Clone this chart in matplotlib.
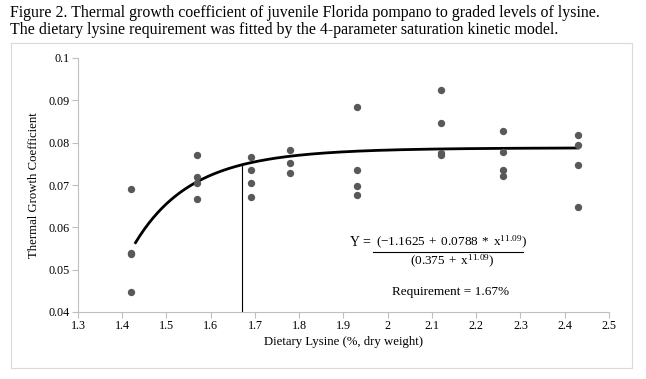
import numpy as np
import matplotlib
matplotlib.use('Agg')
import matplotlib.pyplot as plt
from matplotlib.patches import Rectangle
from matplotlib.lines import Line2D

plt.rcParams['font.family'] = ['Liberation Serif', 'DejaVu Serif']
plt.rcParams['mathtext.fontset'] = 'custom'
plt.rcParams['mathtext.rm'] = 'Liberation Serif'
plt.rcParams['mathtext.it'] = 'Liberation Serif:italic'

# observed thermal growth coefficient per diet
lys_x = [1.42, 1.42, 1.42, 1.42,
         1.57, 1.57, 1.57, 1.57,
         1.69, 1.69, 1.69, 1.69,
         1.78, 1.78, 1.78,
         1.93, 1.93, 1.93, 1.93,
         2.12, 2.12, 2.12, 2.12,
         2.26, 2.26, 2.26, 2.26,
         2.43, 2.43, 2.43, 2.43]
tgc_y = [0.0690, 0.0540, 0.0537, 0.0448,
         0.0772, 0.0720, 0.0704, 0.0666,
         0.0766, 0.0736, 0.0704, 0.0671,
         0.0782, 0.0751, 0.0728,
         0.0884, 0.0735, 0.0697, 0.0676,
         0.0924, 0.0846, 0.0776, 0.0770,
         0.0827, 0.0777, 0.0735, 0.0722,
         0.0817, 0.0794, 0.0747, 0.0647]

# saturation kinetic model parameters shown on the chart
a_par = -1.1625
b_par = 0.0788
n_par = 11.09
k_par = 0.375
fit_start = 1.43
fit_end = 2.43
requirement = 1.67

xticks = [1.3, 1.4, 1.5, 1.6, 1.7, 1.8, 1.9, 2, 2.1, 2.2, 2.3, 2.4, 2.5]
yticks = [0.04, 0.05, 0.06, 0.07, 0.08, 0.09, 0.1]


def model(x):
    return (a_par + b_par * x ** n_par) / (k_par + x ** n_par)


W, H = 646, 379
fig = plt.figure(figsize=(W / 100, H / 100), dpi=100)
ax = fig.add_axes([78 / W, 1 - 312 / H, (609 - 78) / W, (312 - 58) / H])

# border of the chart area
fig.add_artist(Rectangle((11 / W, 1 - 368 / H), 621 / W, 325 / H, transform=fig.transFigure,
                         fill=False, edgecolor='#d9d9d9', linewidth=0.8))

fig.text(10 / W, 1 - 5 / H,
         'Figure 2. Thermal growth coefficient of juvenile Florida pompano to graded levels of lysine.\n'
         'The dietary lysine requirement was fitted by the 4-parameter saturation kinetic model.',
         ha='left', va='top', fontsize=11.4, linespacing=1.08)

ax.scatter(lys_x, tgc_y, s=28, color='#595959', zorder=3, linewidths=0)

xf = np.linspace(fit_start, fit_end, 200)
ax.plot(xf, model(xf), color='black', linewidth=2.0, zorder=2)
ax.plot([requirement, requirement], [0.04, model(requirement)], color='black', linewidth=0.8)

ax.set_xlim(1.3, 2.5)
ax.set_ylim(0.04, 0.1)
ax.set_xticks(xticks)
ax.set_xticklabels([str(t) for t in xticks])
ax.set_yticks(yticks)
ax.set_yticklabels([str(t) for t in yticks])
for s in ['top', 'right']:
    ax.spines[s].set_visible(False)
for s in ['left', 'bottom']:
    ax.spines[s].set_color('#bfbfbf')
    ax.spines[s].set_linewidth(0.8)
ax.tick_params(direction='out', length=4, width=0.8, color='#bfbfbf', labelsize=8.7, pad=2)

ax.set_xlabel('Dietary Lysine (%, dry weight)', fontsize=9.2, labelpad=3)
ax.set_ylabel('Thermal Growth Coefficient', fontsize=9.2, labelpad=6)

# equation
ax.text(1.962, 0.0565, 'Y =', ha='right', va='center', fontsize=10)
ax.text(2.143, 0.0545, r'$\mathregular{(-1.1625\;+\;0.0788\;*\;x^{11.09})}$',
        ha='center', va='bottom', fontsize=9.5)
ax.add_line(Line2D([1.967, 2.306], [0.0542, 0.0542], color='black', linewidth=0.8))
ax.text(2.145, 0.0539, r'$\mathregular{(0.375\;+\;x^{11.09})}$', ha='center', va='top', fontsize=9.5)
ax.text(2.143, 0.0447, 'Requirement = 1.67%', ha='center', va='center', fontsize=9.5)

fig.savefig('out.png', dpi=100)
